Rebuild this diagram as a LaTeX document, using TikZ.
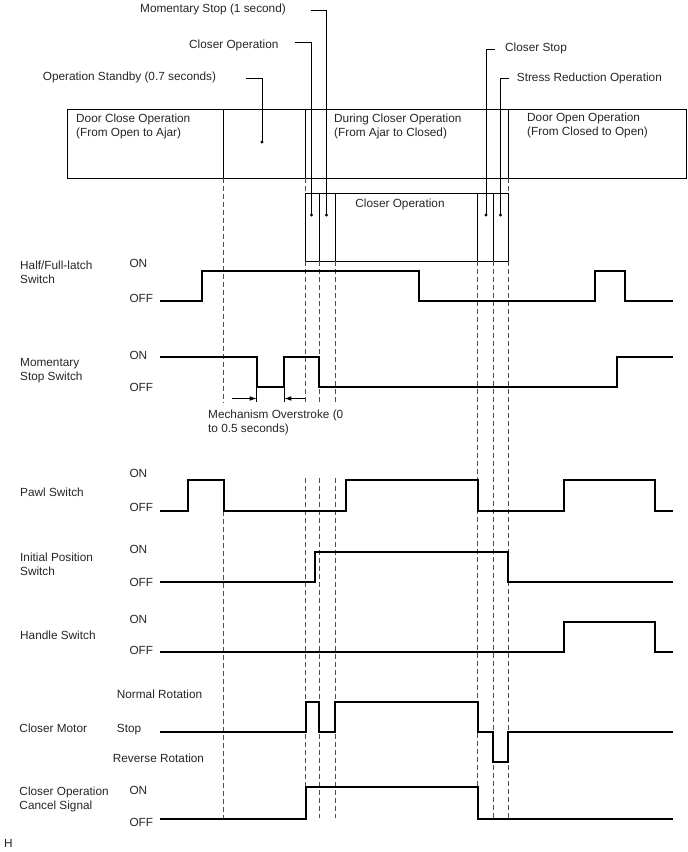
\documentclass[tikz,border=0pt]{standalone}
\usepackage{fontspec}
\setmainfont{Liberation Sans}
\usetikzlibrary{arrows.meta}
\begin{document}
\begin{tikzpicture}[x=1pt,y=-1pt,
  lbl/.style={anchor=north west, inner sep=0pt, align=left, text=black!85, font=\fontsize{11.8}{14}\selectfont, execute at begin node=\strut},
  clbl/.style={lbl, anchor=north},
  sig/.style={line width=2pt, line join=miter},
  frame/.style={line width=1pt},
  guide/.style={line width=0.8pt, dash pattern=on 5pt off 3pt, black!70},
  leader/.style={line width=1pt},
  dotc/.style={circle, fill=black, inner sep=0pt, minimum size=3.4pt},
  dimline/.style={line width=0.7pt}
]
\fill[white] (0,0) rectangle (688,852);
\useasboundingbox (0,0) rectangle (688,852);

% ---------- top labels ----------
\node[lbl] (lms) at (140,2.9) {Momentary Stop (1 second)};
\node[lbl] (lco) at (189,38.5) {Closer Operation};
\node[lbl] (los) at (42.7,70.2) {Operation Standby (0.7 seconds)};
\node[lbl] (lcs) at (505,41.9) {Closer Stop};
\node[lbl] (lsr) at (516.7,71.2) {Stress Reduction Operation};

% ---------- big box ----------
\draw[frame] (67,109) rectangle (686,178);
\draw[frame] (223,109) -- (223,178);
\draw[frame] (305.5,109) -- (305.5,178);
\draw[frame] (508.5,109) -- (508.5,178);
\node[lbl] (pdc) at (76,114.2) {Door Close Operation\\(From Open to Ajar)};
\node[lbl] (pdu) at (334,113.7) {During Closer Operation\\(From Ajar to Closed)};
\node[lbl] (pdo) at (527,112.7) {Door Open Operation\\(From Closed to Open)};

% ---------- sub box ----------
\draw[frame] (305.5,193) rectangle (508.5,261);
\foreach \xx in {319.3,335,477.5,493} \draw[frame] (\xx,193) -- (\xx,261);
\node[clbl] (pco) at (400,197.7) {Closer Operation};

% ---------- dots and leaders ----------
\node[dotc] (dos) at (262,142) {};
\node[dotc] (dco) at (311.5,215) {};
\node[dotc] (dms) at (326.5,215) {};
\node[dotc] (dcs) at (486,215) {};
\node[dotc] (dsr) at (500.5,215) {};
\coordinate (ams) at (310.7,10);
\coordinate (aco) at (295,42);
\coordinate (aos) at (246,78);
\coordinate (acs) at (495,49);
\coordinate (asr) at (509,78);
\draw[leader] (ams) -| (dms.center);
\draw[leader] (aco) -| (dco.center);
\draw[leader] (aos) -| (dos.center);
\draw[leader] (acs) -| (dcs.center);
\draw[leader] (asr) -| (dsr.center);

% ---------- dashed guides ----------
\draw[guide] (223,178) -- (223,403);
\draw[guide] (223,511) -- (223,818);
\draw[guide] (305.5,178) -- (305.5,193);
\draw[guide] (508.5,178) -- (508.5,193);
\foreach \xx in {305.5,319.3,335} {
  \draw[guide] (\xx,261) -- (\xx,403);
  \draw[guide] (\xx,478) -- (\xx,818);
}
\foreach \xx in {477.5,493,508.5} \draw[guide] (\xx,261) -- (\xx,818);

% ---------- Half/Full-latch ----------
\node[lbl] (nhf) at (20,261.2) {Half/Full-latch\\Switch};
\node[lbl] (nhfon) at (129.3,257.2) {ON};
\node[lbl] (nhfoff) at (129.3,292.7) {OFF};
\draw[sig] (160,301) -- (202,301) -- (202,271) -- (419,271) -- (419,301) -- (595,301) -- (595,271) -- (625,271) -- (625,301) -- (673,301);

% ---------- Momentary Stop Switch ----------
\node[lbl] (nms) at (20,357.7) {Momentary\\Stop Switch};
\node[lbl] (nmson) at (129.3,349.7) {ON};
\node[lbl] (nmsoff) at (129.3,381.2) {OFF};
\draw[sig] (160,356.7) -- (256.7,356.7) -- (256.7,386.7) -- (284.3,386.7) -- (284.3,356.7) -- (319.3,356.7) -- (319.3,386.7) -- (617,386.7) -- (617,356.7) -- (673,356.7);
\draw[dimline] (256.7,386.7) -- (256.7,402);
\draw[dimline] (284.3,386.7) -- (284.3,402);
\coordinate (ol) at (231.7,398.5);
\coordinate (oli) at (256.7,398.5);
\coordinate (or) at (305,398.5);
\coordinate (ori) at (284.3,398.5);
\draw[dimline,-{Latex[length=7pt,width=4.5pt]}] (ol) -- (oli);
\draw[dimline,-{Latex[length=7pt,width=4.5pt]}] (or) -- (ori);
\node[lbl] (nmech) at (208,410.2) {Mechanism Overstroke (0\\to 0.5 seconds)};

% ---------- Pawl Switch ----------
\node[lbl] (npw) at (20,486.2) {Pawl Switch};
\node[lbl] (npwon) at (129.3,467.2) {ON};
\node[lbl] (npwoff) at (129.3,501.7) {OFF};
\draw[sig] (160,510.7) -- (188,510.7) -- (188,480) -- (223.5,480) -- (223.5,510.7) -- (345.5,510.7) -- (345.5,480) -- (477.5,480) -- (477.5,510.7) -- (563.5,510.7) -- (563.5,480) -- (654.5,480) -- (654.5,510.7) -- (673,510.7);

% ---------- Initial Position Switch ----------
\node[lbl] (nip) at (20,553.2) {Initial Position\\Switch};
\node[lbl] (nipon) at (129.3,543.2) {ON};
\node[lbl] (nipoff) at (129.3,576.2) {OFF};
\draw[sig] (160,582.3) -- (315,582.3) -- (315,551.7) -- (508,551.7) -- (508,582.3) -- (673,582.3);

% ---------- Handle Switch ----------
\node[lbl] (nhs) at (20,629.2) {Handle Switch};
\node[lbl] (nhson) at (129.3,613.7) {ON};
\node[lbl] (nhsoff) at (129.3,644.2) {OFF};
\draw[sig] (160,652) -- (563.5,652) -- (563.5,621.7) -- (654.5,621.7) -- (654.5,652) -- (673,652);

% ---------- Closer Motor ----------
\node[lbl] (ncm) at (19.3,722.7) {Closer Motor};
\node[lbl] (ncmn) at (116.7,688.2) {Normal Rotation};
\node[lbl] (ncms) at (116.7,722.7) {Stop};
\node[lbl] (ncmr) at (112.7,752.7) {Reverse Rotation};
\draw[sig] (160,731.5) -- (305.5,731.5) -- (305.5,701.7) -- (319.3,701.7) -- (319.3,731.5) -- (335,731.5) -- (335,701.7) -- (477.5,701.7) -- (477.5,731.5) -- (493,731.5) -- (493,762.3) -- (508,762.3) -- (508,731.5) -- (673,731.5);

% ---------- Closer Operation Cancel Signal ----------
\node[lbl] (ncc) at (19.3,786.7) {Closer Operation\\Cancel Signal};
\node[lbl] (ncon) at (129.3,784.2) {ON};
\node[lbl] (ncoff) at (129.3,816.7) {OFF};
\draw[sig] (160,818.5) -- (305.5,818.5) -- (305.5,787.3) -- (477.5,787.3) -- (477.5,818.5) -- (673,818.5);

\node[lbl] (nh) at (4,837.2) {H};
\end{tikzpicture}
\end{document}
